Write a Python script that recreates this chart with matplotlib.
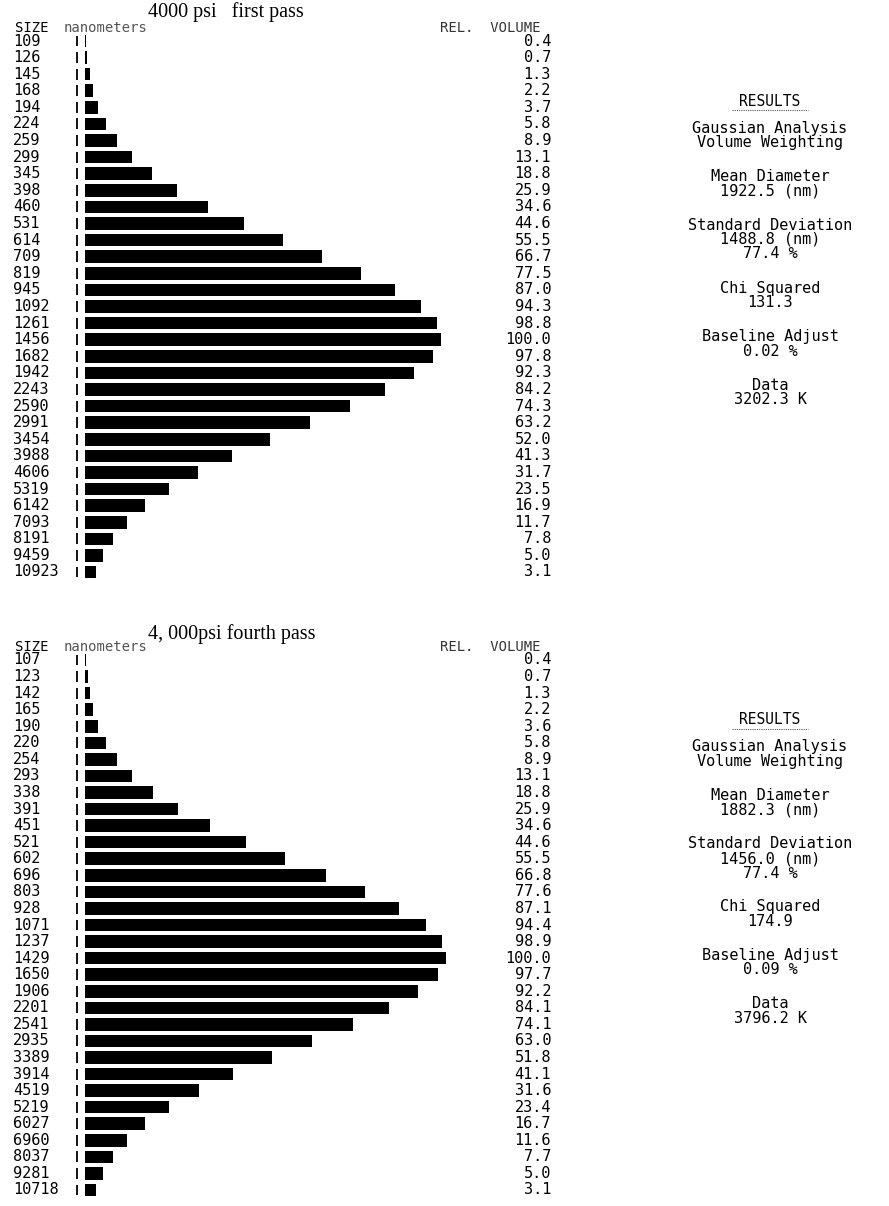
import numpy as np
import matplotlib
matplotlib.use('Agg')
import matplotlib.pyplot as plt
from matplotlib.transforms import blended_transform_factory

W, H = 889, 1206

# first pass
sizes1 = [109, 126, 145, 168, 194, 224, 259, 299, 345, 398, 460, 531, 614, 709, 819,
          945, 1092, 1261, 1456, 1682, 1942, 2243, 2590, 2991, 3454, 3988, 4606, 5319,
          6142, 7093, 8191, 9459, 10923]
vol1 = [0.4, 0.7, 1.3, 2.2, 3.7, 5.8, 8.9, 13.1, 18.8, 25.9, 34.6, 44.6, 55.5, 66.7, 77.5,
        87.0, 94.3, 98.8, 100.0, 97.8, 92.3, 84.2, 74.3, 63.2, 52.0, 41.3, 31.7, 23.5,
        16.9, 11.7, 7.8, 5.0, 3.1]
results1 = [["Gaussian Analysis", "Volume Weighting"],
            ["Mean Diameter", "1922.5 (nm)"],
            ["Standard Deviation", "1488.8 (nm)", "77.4 %"],
            ["Chi Squared", "131.3"],
            ["Baseline Adjust", "0.02 %"],
            ["Data", "3202.3 K"]]

# fourth pass
sizes2 = [107, 123, 142, 165, 190, 220, 254, 293, 338, 391, 451, 521, 602, 696, 803,
          928, 1071, 1237, 1429, 1650, 1906, 2201, 2541, 2935, 3389, 3914, 4519, 5219,
          6027, 6960, 8037, 9281, 10718]
vol2 = [0.4, 0.7, 1.3, 2.2, 3.6, 5.8, 8.9, 13.1, 18.8, 25.9, 34.6, 44.6, 55.5, 66.8, 77.6,
        87.1, 94.4, 98.9, 100.0, 97.7, 92.2, 84.1, 74.1, 63.0, 51.8, 41.1, 31.6, 23.4,
        16.7, 11.6, 7.7, 5.0, 3.1]
results2 = [["Gaussian Analysis", "Volume Weighting"],
            ["Mean Diameter", "1882.3 (nm)"],
            ["Standard Deviation", "1456.0 (nm)", "77.4 %"],
            ["Chi Squared", "174.9"],
            ["Baseline Adjust", "0.09 %"],
            ["Data", "3796.2 K"]]

mono = 'DejaVu Sans Mono'
serif = 'Liberation Serif'

fig = plt.figure(figsize=(W / 100, H / 100), dpi=100)


def fx(x):
    return x / W


def fy(y):
    return 1 - y / H


def panel(title, title_y, sizes, vols, results, y0, y1, x100):
    n = len(sizes)
    step = (y1 - y0) / (n - 1)
    top, bot = y0 - step / 2, y1 + step / 2
    ax = fig.add_axes([fx(85), fy(bot), fx(x100 - 85), (bot - top) / H])
    ax.set_xlim(0, 100)
    ax.set_ylim(n - 0.5, -0.5)
    ax.axis('off')
    rows = np.arange(n)
    ax.barh(rows, vols, height=0.76, left=0, color='black')

    tr = blended_transform_factory(fig.transFigure, ax.transData)
    ax.vlines(np.full(n, fx(77)), rows - 0.33, rows + 0.33, transform=tr,
              color='black', lw=1.3, clip_on=False)
    for i in range(n):
        ax.text(fx(13), i, str(sizes[i]), transform=tr, fontfamily=mono, fontsize=11,
                ha='left', va='center', clip_on=False)
        ax.text(fx(551), i, '%.1f' % vols[i], transform=tr, fontfamily=mono, fontsize=11,
                ha='right', va='center', clip_on=False)

    # headers
    fig.text(fx(148), fy(title_y), title, fontfamily=serif, fontsize=14.5, ha='left', va='center')
    hy = fy(y0 - 13)
    fig.text(fx(15), hy, 'SIZE', fontfamily=mono, fontsize=10, ha='left', va='center')
    fig.text(fx(64), hy, 'nanometers', fontfamily=mono, fontsize=10, color='#555555',
             ha='left', va='center')
    fig.text(fx(541), hy, 'REL.  VOLUME', fontfamily=mono, fontsize=10, color='#333333',
             ha='right', va='center')

    # results block
    cx = 770
    y = y0 + 60
    fig.text(fx(cx), fy(y), 'RESULTS', fontfamily=mono, fontsize=10.5, ha='center', va='center')
    fig.lines.append(plt.Line2D([fx(cx - 38), fx(cx + 38)], [fy(y + 9), fy(y + 9)],
                                transform=fig.transFigure, color='#555555', lw=0.8, ls=(0, (1, 1))))
    y += 27
    for block in results:
        for line in block:
            fig.text(fx(cx), fy(y), line, fontfamily=mono, fontsize=11, ha='center', va='center')
            y += 14.5
        y += 19.5
    return ax


panel('4000 psi   first pass', 12, sizes1, vol1, results1, 41, 572, 441)
panel('4, 000psi fourth pass', 634, sizes2, vol2, results2, 660, 1190, 446)

fig.savefig('out.png', dpi=100, facecolor='white')
